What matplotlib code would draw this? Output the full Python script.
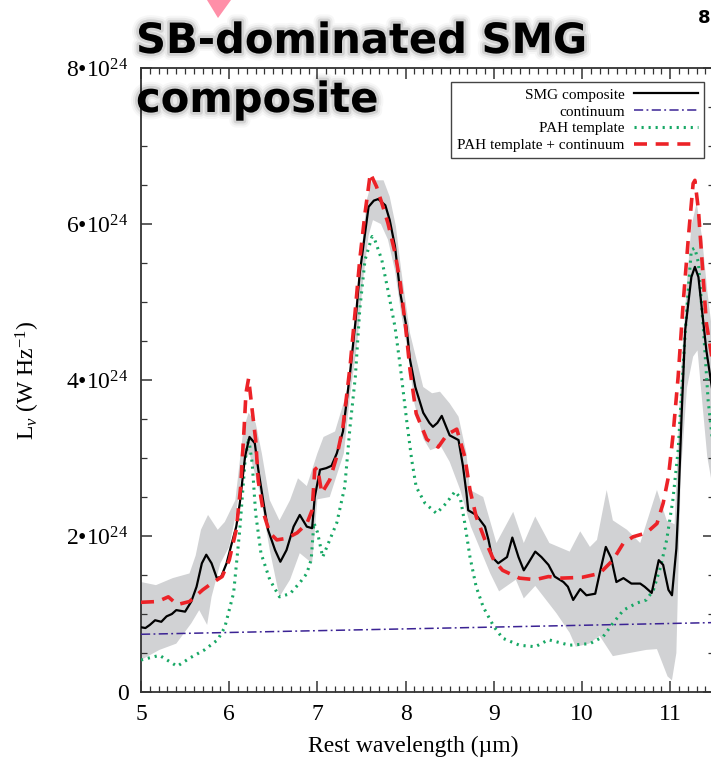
import numpy as np
import matplotlib
matplotlib.use("Agg")
import matplotlib.pyplot as plt
import matplotlib.patheffects as pe
from matplotlib.patches import Polygon
from matplotlib.ticker import MultipleLocator, FixedLocator, FixedFormatter

plt.rcParams['font.family'] = ['Liberation Serif', 'DejaVu Serif']
plt.rcParams['mathtext.fontset'] = 'custom'
plt.rcParams['mathtext.rm'] = 'Liberation Serif'
plt.rcParams['mathtext.it'] = 'Liberation Serif:italic'

# ---- data (units of 1e24 W/Hz) ----
lam_smg = [5.00, 5.05, 5.10, 5.16, 5.23, 5.29, 5.35, 5.40, 5.45, 5.50, 5.57, 5.63, 5.69, 5.74, 5.80,
           5.86, 5.91, 5.97, 6.03, 6.08, 6.12, 6.18, 6.23, 6.29, 6.33, 6.39, 6.44, 6.52, 6.58, 6.65,
           6.73, 6.80, 6.88, 6.94, 6.97, 7.03, 7.10, 7.16, 7.22, 7.29, 7.37, 7.43, 7.48, 7.54, 7.58,
           7.64, 7.69, 7.77, 7.82, 7.88, 7.94, 8.01, 8.05, 8.11, 8.20, 8.27, 8.31, 8.36, 8.41, 8.46,
           8.50, 8.60, 8.65, 8.69, 8.71, 8.80, 8.90, 8.94, 8.98, 9.05, 9.15, 9.21, 9.28, 9.34, 9.39,
           9.47, 9.54, 9.62, 9.69, 9.79, 9.84, 9.90, 9.98, 10.05, 10.15, 10.20, 10.27, 10.33, 10.39,
           10.47, 10.56, 10.66, 10.71, 10.79, 10.87, 10.92, 10.98, 11.02, 11.07, 11.09, 11.13, 11.17,
           11.21, 11.24, 11.28, 11.32, 11.36, 11.41, 11.46, 11.50]
smg = [0.83, 0.82, 0.86, 0.92, 0.90, 0.97, 1.00, 1.05, 1.04, 1.03, 1.16, 1.35, 1.65, 1.76, 1.65,
       1.46, 1.48, 1.65, 1.91, 2.12, 2.42, 3.02, 3.27, 3.19, 2.85, 2.42, 2.08, 1.82, 1.67, 1.82,
       2.12, 2.27, 2.12, 2.10, 2.50, 2.85, 2.87, 2.90, 3.06, 3.34, 4.09, 4.73, 5.37, 5.88, 6.22,
       6.30, 6.32, 6.24, 6.05, 5.71, 5.11, 4.68, 4.26, 3.91, 3.58, 3.45, 3.40, 3.45, 3.54, 3.40,
       3.29, 3.23, 2.90, 2.55, 2.33, 2.27, 2.12, 1.95, 1.73, 1.65, 1.73, 1.98, 1.73, 1.56, 1.65,
       1.80, 1.73, 1.63, 1.48, 1.41, 1.35, 1.18, 1.32, 1.24, 1.26, 1.52, 1.86, 1.72, 1.41,
       1.46, 1.39, 1.39, 1.35, 1.27, 1.69, 1.63, 1.31, 1.24, 1.84, 2.33, 3.57, 4.64,
       5.03, 5.32, 5.45, 5.32, 4.90, 4.38, 4.00, 3.70]

lam_hi = [5.00, 5.17, 5.36, 5.55, 5.62, 5.68, 5.76, 5.87, 5.95, 6.07, 6.16, 6.22, 6.30, 6.37, 6.46,
          6.57, 6.69, 6.78, 6.88, 7.00, 7.07, 7.20, 7.33, 7.42, 7.48, 7.56, 7.62, 7.75, 7.82, 7.89,
          7.95, 8.05, 8.20, 8.30, 8.39, 8.50, 8.60, 8.69, 8.73, 8.88, 9.03, 9.22, 9.34, 9.47, 9.63,
          9.86, 9.98, 10.09, 10.17, 10.28, 10.35, 10.51, 10.66, 10.85, 10.96, 11.05, 11.12, 11.19,
          11.24, 11.30, 11.36, 11.42, 11.50]
hi = [1.41, 1.37, 1.46, 1.52, 1.75, 2.08, 2.27, 2.08, 2.18, 2.46, 3.36, 3.58, 3.45, 3.06, 2.46,
      2.20, 2.46, 2.74, 2.64, 3.06, 3.27, 3.34, 3.83, 4.60, 5.41, 6.31, 6.56, 6.56, 6.35, 5.97,
      5.41, 4.60, 3.91, 3.83, 3.85, 3.70, 3.53, 3.06, 2.59, 2.50, 1.91, 2.31, 1.91, 2.25, 1.91,
      1.80, 2.06, 1.86, 1.95, 2.59, 2.20, 2.08, 1.91, 2.59, 2.20, 2.15, 4.04, 5.24,
      5.97, 6.27, 5.84, 5.15, 4.40]

lam_lo = [5.00, 5.21, 5.40, 5.57, 5.66, 5.75, 5.80, 5.90, 6.00, 6.08, 6.16, 6.23, 6.35, 6.46, 6.57,
          6.69, 6.80, 6.94, 7.00, 7.14, 7.30, 7.37, 7.45, 7.52, 7.58, 7.63, 7.72, 7.80, 7.88, 7.95,
          8.02, 8.10, 8.20, 8.28, 8.40, 8.50, 8.62, 8.74, 8.96, 9.06, 9.25, 9.34, 9.47, 9.71, 9.86,
          9.93, 10.08, 10.20, 10.35, 10.54, 10.73, 10.85, 10.97, 11.02, 11.07, 11.12, 11.19, 11.26,
          11.31, 11.42, 11.50]
lo = [0.41, 0.54, 0.62, 0.88, 1.05, 0.86, 1.22, 1.65, 1.86, 2.30, 2.94, 3.06, 2.55, 1.82, 1.22,
      1.44, 1.78, 1.65, 2.47, 2.50, 3.06, 3.80, 4.45, 5.30, 5.85, 6.05, 6.00, 5.80, 5.40, 4.85,
      4.40, 3.70, 3.25, 3.10, 3.15, 2.95, 2.59, 2.12, 1.52, 1.29, 1.44, 1.20, 1.36, 1.01, 0.76,
      0.58, 0.62, 0.72, 0.46, 0.50, 0.54, 0.55, 0.20, 0.15, 0.50, 2.80, 3.90, 4.30,
      4.38, 3.02, 2.50]

lam_fit = [5.00, 5.19, 5.31, 5.41, 5.55, 5.70, 5.81, 5.92, 6.00, 6.08, 6.13, 6.17, 6.19, 6.22, 6.26,
           6.30, 6.33, 6.39, 6.46, 6.54, 6.65, 6.77, 6.88, 6.94, 6.97, 7.00, 7.05, 7.14, 7.22, 7.29,
           7.37, 7.43, 7.48, 7.54, 7.60, 7.67, 7.73, 7.80, 7.88, 7.94, 8.00, 8.05, 8.12, 8.24, 8.37,
           8.47, 8.58, 8.67, 8.73, 8.80, 8.90, 9.00, 9.10, 9.29, 9.47, 9.62, 9.77, 10.00, 10.20,
           10.35, 10.47, 10.58, 10.73, 10.85, 10.92, 10.98, 11.03, 11.09, 11.15, 11.21, 11.26,
           11.28, 11.32, 11.36, 11.41, 11.46, 11.50]
fit = [1.15, 1.16, 1.22, 1.12, 1.16, 1.31, 1.40, 1.48, 1.69, 2.08, 2.63, 3.40, 3.83, 4.02, 3.62,
       3.23, 2.70, 2.29, 2.04, 1.95, 1.97, 2.04, 2.16, 2.33, 2.85, 2.88, 2.55, 2.72, 3.02, 3.40,
       4.17, 4.90, 5.54, 6.14, 6.65, 6.48, 6.27, 6.01, 5.63, 5.24, 4.68, 4.13, 3.57, 3.24, 3.14,
       3.30, 3.37, 3.02, 2.59, 2.25, 1.95, 1.69, 1.56, 1.46, 1.44, 1.48, 1.46, 1.47, 1.52,
       1.69, 1.91, 1.99, 2.04, 2.16, 2.42, 2.76, 3.27, 4.04, 5.03, 5.88, 6.52,
       6.56, 6.18, 5.54, 4.73, 4.38, 4.10]

lam_pah = [5.00, 5.21, 5.41, 5.56, 5.72, 5.87, 5.95, 6.05, 6.12, 6.18, 6.22, 6.26, 6.30, 6.36, 6.46,
           6.57, 6.69, 6.80, 6.88, 6.93, 6.96, 7.00, 7.06, 7.14, 7.22, 7.31, 7.37, 7.43, 7.48, 7.54,
           7.62, 7.65, 7.73, 7.80, 7.88, 7.94, 8.01, 8.07, 8.12, 8.22, 8.35, 8.46, 8.56, 8.62, 8.67,
           8.73, 8.80, 8.88, 9.00, 9.10, 9.29, 9.47, 9.62, 9.86, 10.09, 10.24, 10.35, 10.47, 10.62,
           10.73, 10.81, 10.89, 10.96, 11.03, 11.09, 11.13, 11.17, 11.21, 11.24, 11.28, 11.32,
           11.38, 11.43, 11.50]
pah = [0.41, 0.47, 0.33, 0.44, 0.54, 0.67, 0.83, 1.27, 2.08, 2.97, 3.26, 2.94, 2.29, 1.78, 1.44,
       1.22, 1.26, 1.40, 1.52, 1.70, 2.17, 2.05, 1.73, 1.95, 2.17, 2.63, 3.40, 4.04, 4.90, 5.54,
       5.84, 5.80, 5.54, 5.15, 4.68, 4.17, 3.50, 2.97, 2.63, 2.42, 2.29, 2.42, 2.57, 2.49, 2.17,
       1.73, 1.35, 1.09, 0.84, 0.69, 0.60, 0.58, 0.67, 0.60, 0.62, 0.71, 0.88, 1.05, 1.14,
       1.18, 1.31, 1.60, 1.95, 2.46, 3.10, 3.87, 4.60, 5.24, 5.67, 5.69, 5.50,
       4.60, 3.74, 3.00]

lam_cont = [5.0, 11.5]
cont = [0.74, 0.89]

scale = 1e24
yticks = [0, 2, 4, 6, 8]
ytick_labels = ["0", "2•10$^{24}$", "4•10$^{24}$", "6•10$^{24}$", "8•10$^{24}$"]
xticks = [5, 6, 7, 8, 9, 10, 11]
legend_labels = ["SMG composite", "continuum", "PAH template", "PAH template + continuum"]

# ---- figure ----
W, H = 711, 766
fig = plt.figure(figsize=(W / 100, H / 100), dpi=100)
ax = fig.add_axes([141 / W, 74 / H, (714.3 - 141) / W, (692 - 68) / H])

ax.fill(np.concatenate([lam_hi, lam_lo[::-1]]),
        np.concatenate([np.array(hi), np.array(lo)[::-1]]) * scale,
        color='#d1d2d4', lw=0, zorder=1)

l_cont, = ax.plot(lam_cont, np.array(cont) * scale, color='#3b2394', lw=1.1,
                  ls=(0, (6, 2.2, 1.2, 2.2)), zorder=3)
l_pah, = ax.plot(lam_pah, np.array(pah) * scale, color='#17a865', lw=2.2,
                 ls=(0, (0.7, 1.6)), zorder=3)
l_smg, = ax.plot(lam_smg, np.array(smg) * scale, color='black', lw=1.6, zorder=4)
l_fit, = ax.plot(lam_fit, np.array(fit) * scale, color='#ec2227', lw=2.6,
                 ls=(0, (3.6, 2.4)), zorder=5)

ax.set_xlim(5, 11.5)
ax.set_ylim(0, 8 * scale)

ax.xaxis.set_major_locator(FixedLocator(xticks))
ax.xaxis.set_minor_locator(MultipleLocator(0.1))
ax.yaxis.set_major_locator(FixedLocator([v * scale for v in yticks]))
ax.yaxis.set_major_formatter(FixedFormatter(ytick_labels))
ax.yaxis.set_minor_locator(MultipleLocator(0.5 * scale))

ax.tick_params(which='both', direction='in', top=True, right=True, colors='#333333',
               labelcolor='black', labelsize=17)
ax.tick_params(which='major', length=8, width=1.1)
ax.tick_params(which='minor', length=4.2, width=0.9)
ax.tick_params(axis='x', pad=9)
ax.tick_params(axis='y', pad=9)
for s in ax.spines.values():
    s.set_color('#333333')
    s.set_linewidth(1.3)

ax.set_xlabel("Rest wavelength (µm)", fontsize=17)
ax.xaxis.set_label_coords(0.475, -0.07)
ax.set_ylabel(r"L$_\nu$ (W Hz$^{-1}$)", fontsize=17)
ax.yaxis.set_label_coords(-0.172, 0.5)

leg = ax.legend([l_smg, l_cont, l_pah, l_fit], legend_labels, markerfirst=False,
                loc='upper right', bbox_to_anchor=(704 / W, 1 - 82 / H),
                bbox_transform=fig.transFigure, borderaxespad=0, fontsize=11,
                handlelength=4.2, labelspacing=0.2, borderpad=0.4, handletextpad=0.6,
                fancybox=False, framealpha=1, edgecolor='#444444')
leg.get_frame().set_linewidth(1.0)

# title overlay
glow = [pe.Stroke(linewidth=10, foreground='#000000', alpha=0.03),
        pe.Stroke(linewidth=7, foreground='#000000', alpha=0.05),
        pe.Stroke(linewidth=4, foreground='#000000', alpha=0.10),
        pe.Normal()]
fig.text(136 / W, 1 - 53 / H, "SB-dominated SMG", fontsize=30, fontweight='bold',
         family='DejaVu Sans', va='baseline', ha='left', path_effects=glow, zorder=10)
fig.text(136 / W, 1 - 112 / H, "composite", fontsize=30, fontweight='bold',
         family='DejaVu Sans', va='baseline', ha='left', path_effects=glow, zorder=10)

# pink marker at top
tri = Polygon([(207 / W, 1.0), (231 / W, 1.0), (218 / W, 1 - 18 / H)], closed=True,
              transform=fig.transFigure, color='#ff8fa8', lw=0)
fig.patches.append(tri)

fig.text(698 / W, 1 - 23 / H, "8", fontsize=13, fontweight='bold', family='DejaVu Sans',
         va='baseline', ha='left')

fig.savefig("out.png", dpi=100)
